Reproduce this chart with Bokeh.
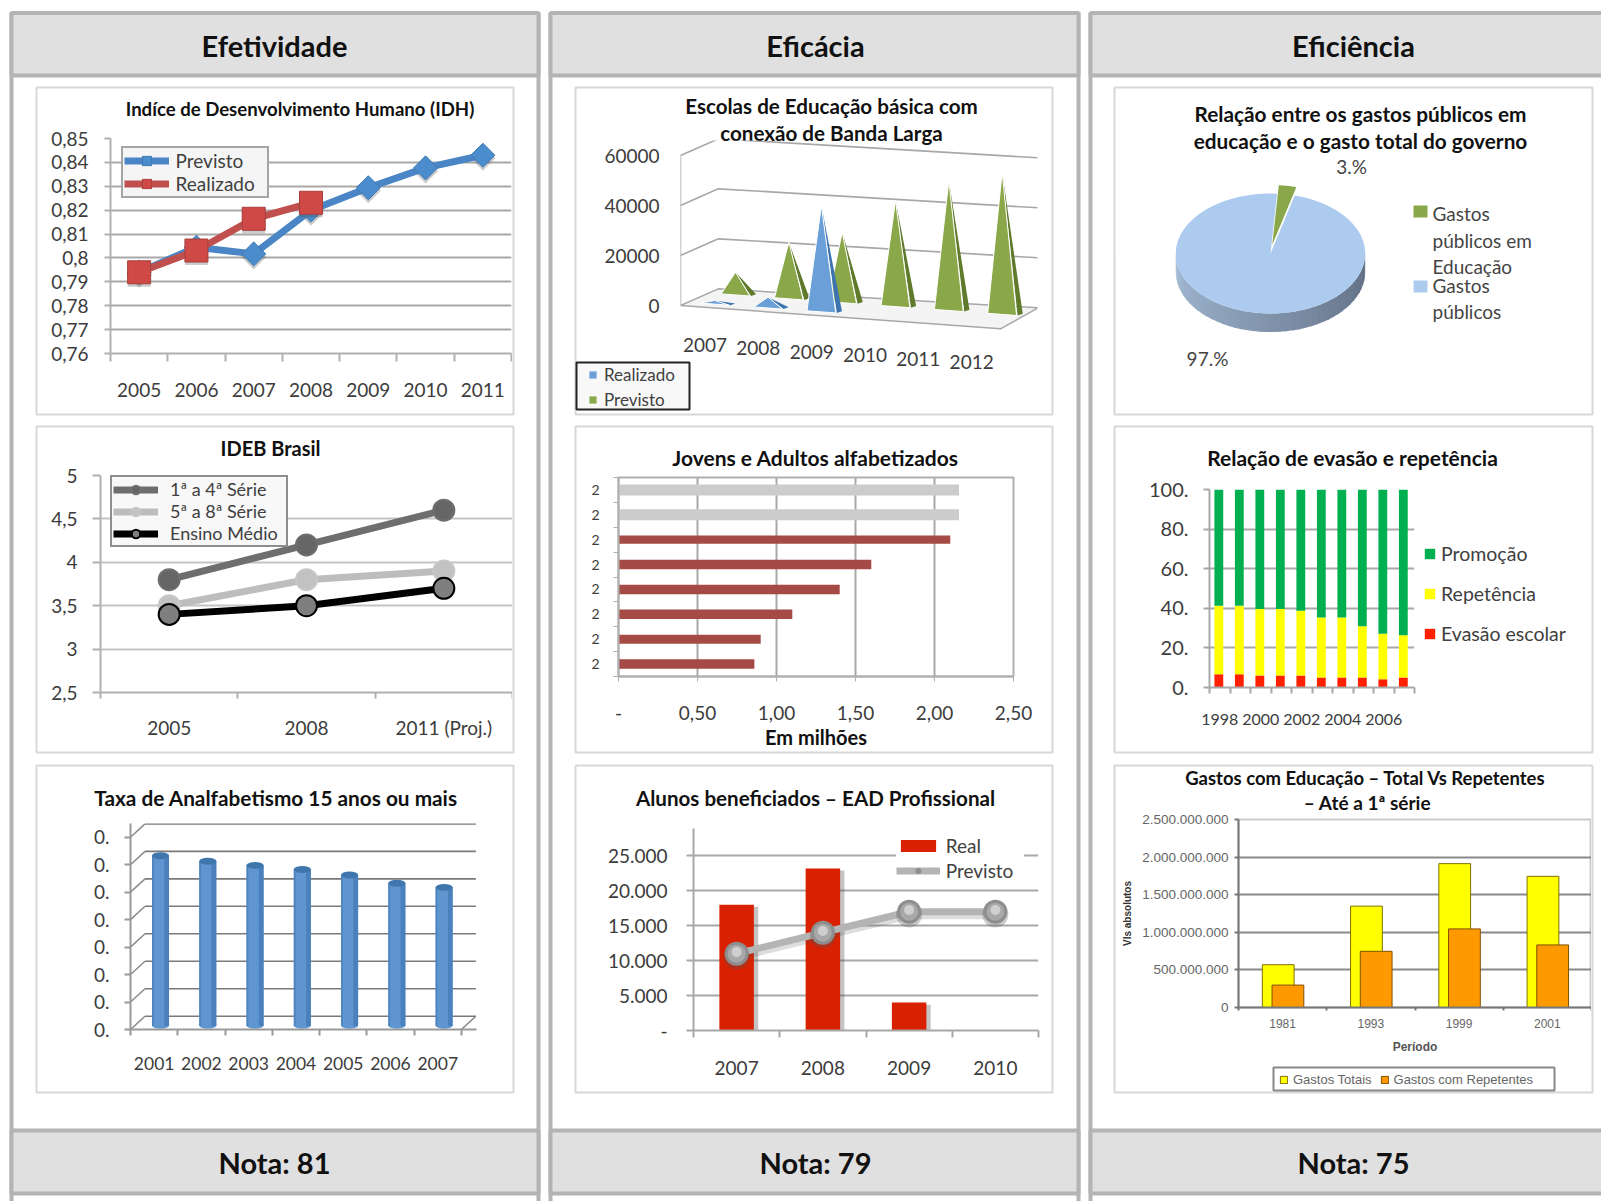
from bokeh.plotting import figure
from bokeh.models import (Range1d, FixedTicker, Legend, LegendItem, Pane)
from bokeh.core.properties import value
from bokeh.embed import file_html
from bokeh.resources import INLINE
import math

FONT = "Lato"
ARIAL = "Liberation Sans"
AXC = "#3c3c3c"
GRID = "#b0b0b0"
FRAME = "#b4b4b4"

# ---------- data ----------
idh_years = ["2005", "2006", "2007", "2008", "2009", "2010", "2011"]
idh_previsto = [0.794, 0.8045, 0.8017, 0.820, 0.8294, 0.8377, 0.843]
idh_realizado = [0.794, 0.8031, 0.8164, 0.8231]
idh_ticks = [0.76, 0.77, 0.78, 0.79, 0.80, 0.81, 0.82, 0.83, 0.84, 0.85]
idh_tick_labels = ["0,76", "0,77", "0,78", "0,79", "0,8", "0,81", "0,82", "0,83", "0,84", "0,85"]

ideb_years = ["2005", "2008", "2011 (Proj.)"]
ideb_1a4 = [3.8, 4.2, 4.6]
ideb_5a8 = [3.5, 3.8, 3.9]
ideb_em = [3.4, 3.5, 3.7]
ideb_ticks = [2.5, 3, 3.5, 4, 4.5, 5]
ideb_tick_labels = ["2,5", "3", "3,5", "4", "4,5", "5"]

analf_years = ["2001", "2002", "2003", "2004", "2005", "2006", "2007"]
analf_values = [12.4, 12.0, 11.7, 11.4, 11.0, 10.4, 10.1]
analf_ticks = [0, 2, 4, 6, 8, 10, 12, 14]

esc_years = ["2007", "2008", "2009", "2010", "2011", "2012"]
esc_previsto = [9100, 22660, 28220, 42450, 52000, 56900]
esc_realizado = [1445, 4334, 42500, 0, 0, 0]
esc_ticks = [0, 20000, 40000, 60000]

alf_labels = ["2", "2", "2", "2", "2", "2", "2", "2"]
alf_values = [2.155, 2.155, 2.10, 1.60, 1.40, 1.10, 0.90, 0.86]
alf_colors = ["#cccccc", "#cccccc", "#a54a45", "#a54a45", "#a54a45", "#a54a45", "#a54a45", "#a54a45"]
alf_ticks = [0, 0.5, 1.0, 1.5, 2.0, 2.5]
alf_tick_labels = ["-", "0,50", "1,00", "1,50", "2,00", "2,50"]

ead_years = ["2007", "2008", "2009", "2010"]
ead_real = [18000, 23200, 4000, 0]
ead_previsto = [11000, 14000, 17000, 17000]
ead_ticks = [0, 5000, 10000, 15000, 20000, 25000]
ead_tick_labels = ["-", "5.000", "10.000", "15.000", "20.000", "25.000"]

pie_labels = ["Gastos públicos em Educação", "Gastos públicos"]
pie_share = [3, 97]

ev_years = ["1998", "1999", "2000", "2001", "2002", "2003", "2004", "2005", "2006", "2007"]
ev_evasao = [6.7, 6.7, 6.0, 6.0, 6.0, 5.0, 5.0, 5.0, 4.2, 5.0]
ev_repet = [34.6, 34.6, 33.7, 33.7, 32.7, 30.3, 30.3, 25.9, 23.0, 21.4]
ev_promo = [58.7, 58.7, 60.3, 60.3, 61.3, 64.7, 64.7, 69.1, 72.8, 73.6]
ev_ticks = [0, 20, 40, 60, 80, 100]
ev_tick_labels = ["0.", "20.", "40.", "60.", "80.", "100."]

gas_years = ["1981", "1993", "1999", "2001"]
gas_totais = [569e6, 1348e6, 1913e6, 1744e6]
gas_repet = [298e6, 747e6, 1045e6, 832e6]
gas_ticks = [0, 500e6, 1000e6, 1500e6, 2000e6, 2500e6]
gas_tick_labels = ["0", "500.000.000", "1.000.000.000", "1.500.000.000", "2.000.000.000", "2.500.000.000"]

col_titles = ["Efetividade", "Eficácia", "Eficiência"]
col_notes = ["Nota: 81", "Nota: 79", "Nota: 75"]

# ---------- page layout (pixels of the window) ----------
cols = [(11, 538), (550, 1078), (1090, 1605)]
col_cx = [274, 815, 1353]
box_x = [(36, 513), (575, 1052), (1114, 1592)]
box_y = [(87, 414), (426, 752), (765, 1092)]


def place(x, y):
    return {"position": "absolute", "left": f"{x}px", "top": f"{y}px"}


bg = figure(width=1601, height=1201, x_range=Range1d(0, 1601), y_range=Range1d(1201, 0),
            x_axis_type=None, y_axis_type=None, output_backend="svg", toolbar_location=None,
            min_border=0, outline_line_color=None, styles=place(0, 0))
bg.grid.visible = False

for (a, b) in cols:
    bg.segment(x0=[a, b], y0=[12, 12], x1=[a, b], y1=[1201, 1201], line_color=FRAME, line_width=4)
    bg.quad(left=a, right=b, top=12.5, bottom=75, fill_color="#e0e0e0", line_color=FRAME, line_width=4)
    bg.quad(left=a, right=b, top=1130, bottom=1193, fill_color="#e0e0e0", line_color=FRAME, line_width=4)
for (x0, x1) in box_x:
    for (y0, y1) in box_y:
        bg.quad(left=x0, right=x1, top=y0, bottom=y1, fill_color="white", line_color="#d8d8d8", line_width=2)


def bg_text(x, y, s, size, bold=True, color="#111111", align="center", font=FONT):
    bg.text(x=[x], y=[y], text=[s], text_font=value(font), text_font_size=f"{size}px",
            text_font_style="bold" if bold else "normal", text_color=color,
            text_align=align, text_baseline="middle")


for cx, t, n in zip(col_cx, col_titles, col_notes):
    bg_text(cx, 45, t, 29)
    bg_text(cx, 1162, n, 29)

bg_text(299.5, 108, "Indíce de Desenvolvimento Humano (IDH)", 18.6)
bg_text(270, 447, "IDEB Brasil", 20)
bg_text(275.5, 797, "Taxa de Analfabetismo 15 anos ou mais", 20.8)
bg_text(831, 105, "Escolas de Educação básica com", 20.6)
bg_text(831, 132, "conexão de Banda Larga", 20.6)
bg_text(815, 457, "Jovens e Adultos alfabetizados", 21)
bg_text(815, 797, "Alunos beneficiados – EAD Profissional", 20.6)
bg_text(1360, 112.5, "Relação entre os gastos públicos em", 20.8)
bg_text(1360, 139.5, "educação e o gasto total do governo", 20.8)
bg_text(1352, 457, "Relação de evasão e repetência", 21)
bg_text(1365, 777, "Gastos com Educação – Total Vs Repetentes", 18.5)
bg_text(1367, 802, "– Até a 1ª série", 19)

# pie texts and hand-wrapped key
bg_text(1351, 166, "3.%", 19, bold=False, color="#444444")
bg_text(1207, 358, "97.%", 19, bold=False, color="#444444")
bg.quad(left=1413, right=1427, top=205, bottom=217, fill_color="#8aa84a", line_color=None)
bg.quad(left=1413, right=1427, top=280, bottom=292, fill_color="#adcbee", line_color=None)
for yy, s in [(213, "Gastos"), (240, "públicos em"), (266, "Educação"), (285, "Gastos"), (311, "públicos")]:
    bg_text(1432, yy, s, 19, bold=False, color="#444444", align="left")

# boxes behind the keys that sit outside the plot frames
bg.quad(left=576, right=689, top=362, bottom=409, fill_color="#f8f8f8", line_color="#222222", line_width=2)
bg.quad(left=1273, right=1554, top=1067, bottom=1090, fill_color="white", line_color="#888888", line_width=2)


def chart(box, frame, xr, yr):
    bx0, by0, bx1, by1 = box
    fx0, fy0, fx1, fy1 = frame
    p = figure(width=bx1 - bx0 - 2, height=by1 - by0 - 2,
               x_range=Range1d(*xr), y_range=Range1d(*yr),
               output_backend="svg", toolbar_location=None,
               min_border_left=round(fx0 - bx0 - 1), min_border_right=round(bx1 - 1 - fx1),
               min_border_top=round(fy0 - by0 - 1), min_border_bottom=round(by1 - 1 - fy1),
               border_fill_alpha=0, background_fill_alpha=0, outline_line_color=None,
               styles=place(bx0 + 1, by0 + 1))
    p.grid.visible = False
    return p


def style_y(p, ticks, labels, size=19, standoff=16, tick_out=6, line=GRID, color=AXC, font=FONT):
    ax = p.yaxis[0]
    ax.ticker = FixedTicker(ticks=ticks)
    ax.major_label_overrides = dict(zip(ticks, labels))
    ax.major_label_text_font = font
    ax.major_label_text_font_size = f"{size}px"
    ax.major_label_text_color = color
    ax.major_label_standoff = standoff
    ax.major_tick_out = tick_out
    ax.major_tick_in = 0
    ax.major_tick_line_color = line
    ax.major_tick_line_width = 2
    ax.minor_tick_line_color = None
    ax.axis_line_color = line
    ax.axis_line_width = 2


def style_x_between(ax, labels, size=19, standoff=19, tick_out=8, line=GRID, every=1, color=AXC, font=FONT):
    n = len(labels)
    ticks = [i + 0.5 for i in range(0, n, every)]
    ax.ticker = FixedTicker(ticks=ticks, minor_ticks=list(range(n + 1)))
    ax.major_label_overrides = {i + 0.5: labels[i] for i in range(0, n, every)}
    ax.major_label_text_font = font
    ax.major_label_text_font_size = f"{size}px"
    ax.major_label_text_color = color
    ax.major_label_standoff = standoff + tick_out
    ax.major_tick_line_color = None
    ax.major_tick_out = 0
    ax.major_tick_in = 0
    ax.minor_tick_out = tick_out
    ax.minor_tick_in = 0
    ax.minor_tick_line_color = line
    ax.minor_tick_line_width = 2
    ax.axis_line_color = line
    ax.axis_line_width = 2


def grid_y(p, ticks, color=GRID, width=2):
    g = p.ygrid[0]
    g.visible = True
    g.ticker = FixedTicker(ticks=ticks)
    g.grid_line_color = color
    g.grid_line_width = width


def key(p, frame, items, left, bottom, size=19, color="#404040", font=FONT, glyph=(45, 20), rows=22,
        standoff=5, padding=2, label_width=20, fill=None, border=None, orientation="vertical", spacing=0):
    lg = Legend(items=[LegendItem(label=t, renderers=r) for t, r in items],
                location=(left - frame[0], frame[3] - bottom), orientation=orientation,
                label_text_font=font, label_text_font_size=f"{size}px", label_text_color=color,
                glyph_width=glyph[0], glyph_height=glyph[1], label_height=rows, label_width=label_width,
                label_standoff=standoff, padding=padding, margin=0, spacing=spacing,
                background_fill_color=fill or "white", background_fill_alpha=1 if fill else 0,
                border_line_color=border, border_line_width=2)
    p.add_layout(lg)


def page_key(entries, left, bottom, **kw):
    """Key drawn on the page figure, for keys that lie outside a chart's plot frame."""
    items = []
    for label, color, edge in entries:
        r = bg.quad(left=[-30], right=[-20], top=[-30], bottom=[-20], fill_color=color, line_color=edge)
        items.append((label, [r]))
    key(bg, (0, 0, 1601, 1201), items, left, bottom, **kw)


figs = [bg]

# ---------- IDH ----------
fr = (110, 138.3, 511, 352.7)
p = chart((box_x[0][0], box_y[0][0], box_x[0][1], box_y[0][1]), fr, (0, 7), (0.76, 0.85))
style_y(p, idh_ticks, idh_tick_labels, standoff=16)
style_x_between(p.xaxis[0], idh_years, standoff=13)
grid_y(p, idh_ticks, "#a8a8a8")
xs = [i + 0.5 for i in range(len(idh_years))]
xr = xs[:len(idh_realizado)]
p.scatter(xs, [v - 0.0012 for v in idh_previsto], marker="square", angle=math.pi / 4, size=18, fill_color="#555555", fill_alpha=0.3, line_color=None)
l1 = p.line(xs, idh_previsto, line_color="#4a86c5", line_width=7)
m1 = p.scatter(xs, idh_previsto, marker="square", angle=math.pi / 4, size=17, fill_color="#4a8ccc", line_color="#3f78b4", line_width=1)
p.scatter(xr, [v - 0.0012 for v in idh_realizado], marker="square", size=23, fill_color="#555555", fill_alpha=0.3, line_color=None)
l2 = p.line(xr, idh_realizado, line_color="#c0504d", line_width=7)
m2 = p.scatter(xr, idh_realizado, marker="square", size=23, fill_color="#cf4a47", line_color="#a63f3c", line_width=1)
key(p, fr, [("Previsto", [l1, m1]), ("Realizado", [l2, m2])], 120.5, 198, glyph=(45, 23), rows=23, padding=1, standoff=7, label_width=90, fill="#f5f5f5", border="#555555")
figs.append(p)

# ---------- IDEB ----------
fr = (100, 475, 512, 691.7)
p = chart((box_x[0][0], box_y[1][0], box_x[0][1], box_y[1][1]), fr, (0, 3), (2.5, 5))
style_y(p, ideb_ticks, ideb_tick_labels, standoff=15, tick_out=8)
style_x_between(p.xaxis[0], ideb_years, standoff=11, tick_out=6)
grid_y(p, ideb_ticks, "#c4c4c4")
xs = [i + 0.5 for i in range(3)]
rend = []
for vals, lc, mc, ml in [(ideb_1a4, "#6e6e6e", "#666666", "#6e6e6e"), (ideb_5a8, "#bdbdbd", "#c2c2c2", "#c8c8c8"), (ideb_em, "#000000", "#7f7f7f", "#000000")]:
    l = p.line(xs, vals, line_color=lc, line_width=7)
    m = p.scatter(xs, vals, marker="circle", size=21, fill_color=mc, line_color=ml, line_width=2)
    rend.append([l, m])
key(p, fr, [("1ª a 4ª Série", rend[0]), ("5ª a 8ª Série", rend[1]), ("Ensino Médio", rend[2])], 110, 547,
    size=18, glyph=(45, 21), rows=21, standoff=12, padding=1, label_width=115, fill="#f8f8f8", border="#222222")
figs.append(p)

# ---------- Analfabetismo (3D cylinders) ----------
fr = (130.2, 822.7, 476, 1029.3)
dep_x, dep_y = 0.307, 0.97
p = chart((box_x[0][0], box_y[2][0], box_x[0][1], box_y[2][1]), fr, (0, 7.32), (0, 15))
style_y(p, analf_ticks, ["0."] * 8, size=19, standoff=15, tick_out=6, line="#999999")
style_x_between(p.xaxis[0], analf_years, size=17.5, standoff=15, tick_out=6, line="#999999")
p.segment(x0=[dep_x] * 8, y0=[v + dep_y for v in analf_ticks], x1=[7 + dep_x] * 8, y1=[v + dep_y for v in analf_ticks], line_color="#7a7a7a", line_width=1.6)
p.segment(x0=[0] * 8, y0=analf_ticks, x1=[dep_x] * 8, y1=[v + dep_y for v in analf_ticks], line_color="#8a8a8a", line_width=1.5)
p.segment(x0=[7], y0=[0], x1=[7 + dep_x], y1=[dep_y], line_color="#8a8a8a", line_width=1.5)
cx = [i + 0.635 for i in range(7)]
tops = [v + 0.25 for v in analf_values]
p.ellipse(cx, [0.3] * 7, width=0.36, height=0.5, fill_color="#5f96cf", line_color=None)
p.vbar(x=cx, top=tops, bottom=[0.3] * 7, width=0.36, fill_color="#5f96cf", line_color=None)
p.vbar(x=[c + 0.13 for c in cx], top=tops, bottom=[0.25] * 7, width=0.1, fill_color="#4a80bb", line_color=None)
p.vbar(x=[c - 0.16 for c in cx], top=tops, bottom=[0.25] * 7, width=0.04, fill_color="#4f85bf", line_color=None)
p.ellipse(cx, tops, width=0.36, height=0.5, fill_color="#3f77ad", line_color=None)
figs.append(p)

# ---------- Escolas (3D pyramids) ----------
fr = (679.5, 140, 1037, 378)
DX, DV = 110 / 155, 6667
TILT, BTILT = 1556, 1267


def esc_pt(cat, depth, val):
    return cat + depth * DX, val - TILT * cat + depth * DV


p = chart((box_x[1][0], box_y[0][0], box_x[1][1], box_y[0][1]), fr, (0, 6.695), (-29200, 66000))
style_y(p, esc_ticks, [str(t) for t in esc_ticks], standoff=21, tick_out=0, line=None)
p.xaxis.visible = False
f0 = esc_pt(0, 0, 0)
f1 = esc_pt(6, 0, 0)
p.patch([f0[0], f0[0] + DX, f1[0] + DX, f1[0]], [0, DV, DV - BTILT * 6, f1[1]], fill_color="#f4f4f4", line_color="#a8a8a8", line_width=1.5)
for v in esc_ticks[1:]:
    p.line([0, DX, 6 + DX], [v, v + DV, v + DV - BTILT * 6], line_color="#a8a8a8", line_width=1.6)
p.line([0, 0], [0, 60000], line_color="#a8a8a8", line_width=1.5)


def pyramids(vals, depth, face, side):
    fx, fy, sx, sy = [], [], [], []
    for i, v in enumerate(vals):
        if v <= 0:
            continue
        c = i + 0.5
        ax_, ay_ = esc_pt(c, depth, v)
        lx, ly = esc_pt(c - 0.27, depth, 0)
        rx, ry = esc_pt(c + 0.27, depth, 0)
        ex, ey = rx + 0.116, ry + 700
        fx.append([lx, rx, ax_])
        fy.append([ly, ry, ay_])
        sx.append([rx + 0.02, ex, ax_])
        sy.append([ry, ey, ay_])
    p.patches(sx, sy, fill_color=side, line_color=None)
    return p.patches(fx, fy, fill_color=face, line_color="white", line_width=1)


rg = pyramids(esc_previsto, 0.75, "#8aa84a", "#5e7a2a")
rb = pyramids(esc_realizado, 0.2, "#6a9fd8", "#3d74b0")
p.text(x=[i + 0.46 for i in range(6)], y=[-15700 - 1400 * i for i in range(6)], text=esc_years,
       text_font=value(FONT), text_font_size="19px", text_color=AXC, text_align="center", text_baseline="middle")
page_key([("Realizado", "#6a9fd8", None), ("Previsto", "#8aa84a", None)], 588, 412, size=17, glyph=(9, 9), rows=25, standoff=7, padding=0)
figs.append(p)

# ---------- Jovens e Adultos ----------
fr = (618.3, 477.3, 1013.3, 678.3)
p = chart((box_x[1][0], box_y[1][0], box_x[1][1], box_y[1][1]), fr, (0, 2.5), (0, 8))
p.outline_line_color = "#b0b0b0"
p.outline_line_width = 2
ax = p.xaxis[0]
ax.ticker = FixedTicker(ticks=alf_ticks)
ax.major_label_overrides = dict(zip(alf_ticks, alf_tick_labels))
ax.major_label_text_font = FONT
ax.major_label_text_font_size = "19px"
ax.major_label_text_color = AXC
ax.major_label_standoff = 24
ax.major_tick_out = 5
ax.major_tick_in = 0
ax.major_tick_line_color = "#b0b0b0"
ax.minor_tick_line_color = None
ax.axis_line_color = "#b0b0b0"
ax.axis_line_width = 2
ax.axis_label = "Em milhões"
ax.axis_label_text_font = FONT
ax.axis_label_text_font_size = "20px"
ax.axis_label_text_font_style = "bold"
ax.axis_label_text_color = "#111111"
ax.axis_label_standoff = 2
g = p.xgrid[0]
g.visible = True
g.ticker = FixedTicker(ticks=alf_ticks)
g.grid_line_color = "#a8a8a8"
g.grid_line_width = 2
ay = p.yaxis[0]
ay.ticker = FixedTicker(ticks=[i + 0.5 for i in range(8)], minor_ticks=list(range(9)))
ay.major_label_overrides = {i + 0.5: alf_labels[i] for i in range(8)}
ay.major_label_text_font = FONT
ay.major_label_text_font_size = "14px"
ay.major_label_text_color = AXC
ay.major_label_standoff = 14
ay.major_tick_line_color = None
ay.major_tick_out = 0
ay.major_tick_in = 0
ay.minor_tick_out = 5
ay.minor_tick_in = 0
ay.minor_tick_line_color = "#b0b0b0"
ay.axis_line_color = "#b0b0b0"
ay.axis_line_width = 2
ys = [7.5 - i for i in range(8)]
p.hbar(y=ys, right=alf_values, left=0, height=[0.44, 0.44, 0.33, 0.38, 0.38, 0.38, 0.36, 0.38], fill_color=alf_colors, line_color=None)
figs.append(p)

# ---------- Alunos EAD ----------
fr = (693.3, 828.3, 1038.3, 1030)
p = chart((box_x[1][0], box_y[2][0], box_x[1][1], box_y[2][1]), fr, (0, 4), (0, 28920))
style_y(p, ead_ticks, ead_tick_labels, standoff=19, tick_out=7, line="#a8a8a8")
style_x_between(p.xaxis[0], ead_years, standoff=16, tick_out=7, line="#a8a8a8")
grid_y(p, ead_ticks, "#a8a8a8")
xs = [i + 0.5 for i in range(4)]
p.vbar(x=[x + 0.05 for x in xs], top=[v - 300 if v else 0 for v in ead_real], width=0.4, fill_color="#555555", fill_alpha=0.35, line_color=None)
b = p.vbar(x=xs, top=ead_real, width=0.4, fill_color="#d92000", line_color=None)
p.line(xs, [v - 500 for v in ead_previsto], line_color="#555555", line_alpha=0.2, line_width=8)
l = p.line(xs, ead_previsto, line_color="#b4b4b4", line_width=7)
p.scatter(xs, [v - 400 for v in ead_previsto], marker="circle", size=26, fill_color="#555555", fill_alpha=0.3, line_color=None)
m = p.scatter(xs, ead_previsto, marker="circle", size=24, fill_color="#8e8e8e", line_color=None)
p.scatter(xs, ead_previsto, marker="circle", size=18, fill_color="#a8a8a8", line_color=None)
p.scatter(xs, [v + 250 for v in ead_previsto], marker="circle", size=10, fill_color="#cfcfcf", line_color=None)
key(p, fr, [("Real", [b]), ("Previsto", [l, m])], 896, 882.5, glyph=(44, 15), rows=25, standoff=6, padding=2, label_width=78, fill="white")
figs.append(p)

# ---------- Pie ----------
fr = (1170, 175, 1370, 340)
p = chart((box_x[2][0], box_y[0][0], box_x[2][1], box_y[0][1]), fr, (-1.056, 1.056), (-1.45, 1.3))
p.axis.visible = False
DEPTH = 0.31
start = 4.0
span = [360 * s / sum(pie_share) for s in pie_share]


def lerp(c0, c1, t):
    return "#" + "".join(f"{round(a + (b - a) * t):02x}" for a, b in zip(c0, c1))


N = 45
sx, sy, sc = [], [], []
for k in range(N):
    a0 = math.radians(90 + 180 * k / N)
    a1 = math.radians(90 + 180 * (k + 1.2) / N)
    xa, xb = math.sin(a0), math.sin(a1)
    ya, yb = math.cos(a0), math.cos(a1)
    sx.append([xa, xb, xb, xa])
    sy.append([ya, yb, yb - DEPTH, ya - DEPTH])
    sc.append(lerp((0x5d, 0x6b, 0x80), (0xa4, 0xbb, 0xd6), k / (N - 1)))
p.patches(sx, sy, fill_color=sc, line_color=None)


def wedge(a_from, a_to, ox=0.0, oy=0.0):
    n = 120
    angs = [math.radians(a_from + (a_to - a_from) * i / n) for i in range(n + 1)]
    return [ox] + [ox + math.sin(a) for a in angs], [oy] + [oy + math.cos(a) for a in angs]


wx, wy = wedge(start + span[0], start + span[0] + span[1])
p.patch(wx, wy, fill_color="#adcbee", line_color=None)
wx, wy = wedge(start, start + span[0], 0.018, 0.14)
p.patch(wx, wy, fill_color="#8aa84a", line_color=None)
figs.append(p)

# ---------- Evasão ----------
fr = (1209, 489, 1414, 687.3)
p = chart((box_x[2][0], box_y[1][0], box_x[2][1], box_y[1][1]), fr, (0, 10), (0, 100))
style_y(p, ev_ticks, ev_tick_labels, size=20, standoff=15, tick_out=6, line="#a8a8a8")
style_x_between(p.xaxis[0], ev_years, size=16, standoff=14, tick_out=6, line="#a8a8a8", every=2)
grid_y(p, ev_ticks, "#a8a8a8")
xs = [i + 0.455 for i in range(10)]
t1 = ev_evasao
t2 = [a + b for a, b in zip(t1, ev_repet)]
t3 = [a + b for a, b in zip(t2, ev_promo)]
p.vbar(x=xs, bottom=0, top=t1, width=0.43, fill_color="#ff2000", line_color=None)
p.vbar(x=xs, bottom=t1, top=t2, width=0.43, fill_color="#ffff00", line_color=None)
p.vbar(x=xs, bottom=t2, top=t3, width=0.43, fill_color="#00b050", line_color=None)
page_key([("Promoção", "#00b050", None), ("Repetência", "#ffff00", None), ("Evasão escolar", "#ff2000", None)],
         1423, 653, size=19.5, glyph=(13, 13), rows=40, standoff=5, padding=0)
figs.append(p)

# ---------- Gastos ----------
fr = (1238.3, 819.3, 1590.7, 1006.7)
p = chart((box_x[2][0], box_y[2][0], box_x[2][1], box_y[2][1]), fr, (0, 4), (0, 2.5e9))
p.outline_line_color = "#cccccc"
p.outline_line_width = 2
style_y(p, gas_ticks, gas_tick_labels, size=13.5, standoff=6, tick_out=4, line="#777777", color="#666666", font=ARIAL)
style_x_between(p.xaxis[0], gas_years, size=12, standoff=5, tick_out=3, line="#777777", color="#666666", font=ARIAL)
grid_y(p, gas_ticks, "#8a8a8a")
ay = p.yaxis[0]
ay.axis_label = "Vls absolutos"
ay.axis_label_text_font = ARIAL
ay.axis_label_text_font_size = "10px"
ay.axis_label_text_font_style = "bold"
ay.axis_label_text_color = "#333333"
ay.axis_label_standoff = 6
ax = p.xaxis[0]
ax.axis_label = "Período"
ax.axis_label_text_font = ARIAL
ax.axis_label_text_font_size = "12px"
ax.axis_label_text_font_style = "bold"
ax.axis_label_text_color = "#555555"
ax.axis_label_standoff = 9
xs = [i + 0.5 for i in range(4)]
p.vbar(x=[x - 0.05 for x in xs], top=gas_totais, width=0.36, fill_color="#ffff00", line_color="#807000", line_width=1)
p.vbar(x=[x + 0.06 for x in xs], top=gas_repet, width=0.36, fill_color="#ff9900", line_color="#805000", line_width=1)
page_key([("Gastos Totais", "#ffff00", "#807000"), ("Gastos com Repetentes", "#ff9900", "#805000")], 1279, 1087,
         size=13, color="#666666", font=ARIAL, glyph=(9, 9), rows=16, standoff=5, padding=0, label_width=20,
         orientation="horizontal", spacing=8)
figs.append(p)

root = Pane(elements=figs, styles=place(0, 0))
open("out.html", "w").write(file_html(root, INLINE))
